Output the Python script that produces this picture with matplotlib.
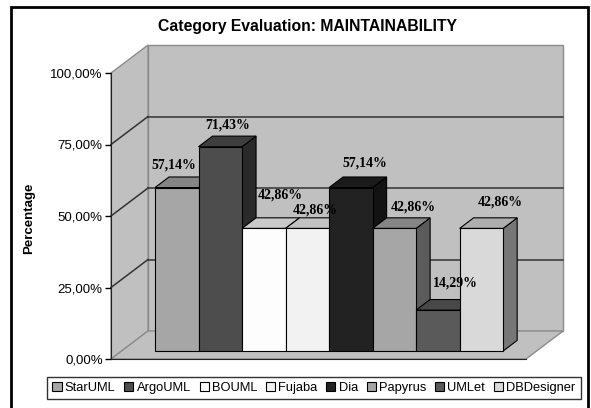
import matplotlib
matplotlib.use('Agg')
import matplotlib.pyplot as plt
from matplotlib.patches import Polygon, Rectangle, Patch
from matplotlib.colors import to_rgb

plt.rcParams['font.family'] = ['Liberation Sans', 'DejaVu Sans']

TOOLS = ['StarUML', 'ArgoUML', 'BOUML', 'Fujaba', 'Dia', 'Papyrus', 'UMLet', 'DBDesigner']
SCORES = [57.14, 71.43, 42.86, 42.86, 57.14, 42.86, 14.29, 42.86]
BAR_COLORS = ['#a6a6a6', '#4d4d4d', '#fdfdfd', '#f2f2f2',
              '#222222', '#a6a6a6', '#5a5a5a', '#d9d9d9']
Y_TICKS = [0, 25, 50, 75, 100]

# hand-placed value labels (pixel offsets from the top-front centre of each bar)
LABEL_DX = [-3, 7, 16, 8, 14, 19, 18, 19]
LABEL_DY = [23, 22, 33, 18, 25, 21, 27, 26]

# pseudo-3D box: full depth offset in data units, bar slab between FRONT and BACK
DX, DY = 0.851, 9.79
FRONT, BACK = 0.286, 0.664
WALL = '#c0c0c0'
EDGE = '#8c8c8c'


def shade(c, k):
    r, g, b = to_rgb(c)
    return (r * k, g * k, b * k)


def pct(v):
    return f'{v:.2f}%'.replace('.', ',')


fig = plt.figure(figsize=(5.91, 4.08), dpi=100)
ax = fig.add_axes([111 / 591, 49 / 408, 415 / 591, 286 / 408])
x0, x1 = -1.268, len(TOOLS) - 1 + 1.268
ax.set_xlim(x0, x1)
ax.set_ylim(0, 100)
ax.patch.set_visible(False)

# walls and floor
left_wall = [(x0, 0), (x0, 100), (x0 + DX, 100 + DY), (x0 + DX, DY)]
back_wall = [(x0 + DX, DY), (x1 + DX, DY), (x1 + DX, 100 + DY), (x0 + DX, 100 + DY)]
floor = [(x0, 0), (x1, 0), (x1 + DX, DY), (x0 + DX, DY)]
for pts in (back_wall, left_wall, floor):
    ax.add_patch(Polygon(pts, closed=True, fc=WALL, ec=EDGE, lw=1,
                         zorder=0.5, clip_on=False))

for v in Y_TICKS[1:-1]:
    ax.plot([x0 + DX, x1 + DX], [v + DY, v + DY], color='#333333', lw=1.1,
            zorder=1, clip_on=False)
    ax.plot([x0, x0 + DX], [v, v + DY], color='#333333', lw=1.1,
            zorder=1, clip_on=False)

# bars, left to right so each one hides the side of the previous
for i, (v, c) in enumerate(zip(SCORES, BAR_COLORS)):
    l, r = i - 0.5, i + 0.5
    fx, fy = FRONT * DX, FRONT * DY
    bx, by = BACK * DX, BACK * DY
    z = 3 + i
    side = [(r + fx, fy), (r + bx, by), (r + bx, v + by), (r + fx, v + fy)]
    top = [(l + fx, v + fy), (r + fx, v + fy), (r + bx, v + by), (l + bx, v + by)]
    front = [(l + fx, fy), (r + fx, fy), (r + fx, v + fy), (l + fx, v + fy)]
    ax.add_patch(Polygon(side, closed=True, fc=shade(c, 0.55), ec='black',
                         lw=0.8, zorder=z, clip_on=False))
    ax.add_patch(Polygon(top, closed=True, fc=shade(c, 0.8), ec='black',
                         lw=0.8, zorder=z, clip_on=False))
    ax.add_patch(Polygon(front, closed=True, fc=c, ec='black',
                         lw=0.8, zorder=z, clip_on=False))

for i, v in enumerate(SCORES):
    ax.annotate(pct(v), xy=(i + FRONT * DX, v + FRONT * DY),
                xytext=(LABEL_DX[i], LABEL_DY[i]), textcoords='offset pixels',
                ha='center', va='center', fontsize=10, fontweight='bold',
                family=['Liberation Serif'], zorder=20, annotation_clip=False)

# axes
ax.set_xticks([])
ax.set_yticks(Y_TICKS)
ax.set_yticklabels([pct(t) for t in Y_TICKS], fontsize=9.5)
ax.tick_params(axis='y', direction='out', length=4, width=1, color='black', pad=2)
for s in ('top', 'right'):
    ax.spines[s].set_visible(False)
ax.spines['left'].set_color('#222222')
ax.spines['bottom'].set_color('#222222')
ax.spines['left'].set_zorder(2)
ax.spines['bottom'].set_zorder(2)

fig.text(29 / 591, 1 - 218 / 408, 'Percentage', rotation=90, ha='center',
         va='center', fontsize=9.5, fontweight='bold')
fig.text(307 / 591, 1 - 27 / 408, 'Category Evaluation: MAINTAINABILITY',
         ha='center', va='center', fontsize=11.3, fontweight='bold')

handles = [Patch(fc=c, ec='black', lw=0.8) for c in BAR_COLORS]
leg = fig.legend(handles, TOOLS, loc='center', ncol=len(TOOLS),
                 bbox_to_anchor=(314 / 591, 1 - 388 / 408), fontsize=9.3,
                 frameon=True, fancybox=False, edgecolor='black',
                 handlelength=0.7, handleheight=0.7, handletextpad=0.25,
                 columnspacing=0.68, borderpad=0.4, borderaxespad=0)
leg.get_frame().set_linewidth(1)

# outer chart border
fig.add_artist(Rectangle((11 / 591, -0.02), 577 / 591, 1 - 7 / 408 + 0.02,
                         transform=fig.transFigure, fill=False,
                         ec='black', lw=2))

fig.savefig('out.png', dpi=100, facecolor='white')
